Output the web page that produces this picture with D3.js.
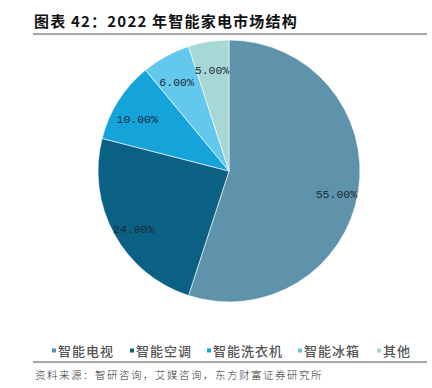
<!DOCTYPE html>
<html>
<head>
<meta charset="utf-8">
<script src="https://cdn.jsdelivr.net/npm/d3@7"></script>
<style>
  body { margin: 0; background: #fff; }
  svg { display: block; }
</style>
</head>
<body>
<script>
// chart data
var categories = ["智能电视", "智能空调", "智能洗衣机", "智能冰箱", "其他"];
var shares = [55, 24, 10, 6, 5];
var colors = ["#5f93ab", "#0b6183", "#14a4da", "#62c8ee", "#a6d9d6"];

var width = 432, height = 388,
    cx = 229, cy = 171, radius = 131;

var svg = d3.select("body").append("svg")
    .attr("width", width)
    .attr("height", height);

// title + rule
svg.append("text")
    .attr("x", 34)
    .attr("y", 27)
    .style("font-family", "'Noto Sans CJK SC', sans-serif")
    .style("font-weight", "bold")
    .style("font-size", "15px")
    .style("letter-spacing", "1.2px")
    .attr("fill", "#111")
    .text("图表 42：2022 年智能家电市场结构");

svg.append("line")
    .attr("x1", 33).attr("x2", 427)
    .attr("y1", 34).attr("y2", 34)
    .attr("stroke", "#888")
    .attr("stroke-width", 1.5);

// pie
var pie = d3.pie().sort(null).value(function(d){ return d; });
var arc = d3.arc().innerRadius(0).outerRadius(radius);
var labelArc = d3.arc().innerRadius(radius * 0.83).outerRadius(radius * 0.83);

var g = svg.append("g")
    .attr("transform", "translate(" + cx + "," + cy + ")");

var slices = g.selectAll(".slice")
    .data(pie(shares))
    .enter()
    .append("g")
    .attr("class", "slice");

slices.append("path")
    .attr("d", arc)
    .attr("fill", function(d, i){ return colors[i]; })
    .attr("stroke", "#fff")
    .attr("stroke-width", 0.6);

slices.append("text")
    .attr("transform", function(d){
        var c = labelArc.centroid(d);
        return "translate(" + c[0] + "," + (c[1] + 6) + ")";
    })
    .attr("text-anchor", "middle")
    .attr("dy", "0.35em")
    .style("font-family", "'Liberation Mono', monospace")
    .style("font-size", "11.5px")
    .attr("fill", "#1a2a36")
    .text(function(d){ return d.value.toFixed(2) + "%"; });

// legend
var legendPos = [52, 130, 207, 298, 377];

var legend = svg.selectAll(".legend")
    .data(categories)
    .enter()
    .append("g")
    .attr("class", "legend")
    .attr("transform", function(d, i){
        return "translate(" + legendPos[i] + ",351)";
    });

legend.append("rect")
    .attr("x", 0).attr("y", -2.5)
    .attr("width", 4).attr("height", 4)
    .attr("fill", function(d, i){ return colors[i]; });

legend.append("text")
    .attr("x", 6)
    .attr("dy", "0.35em")
    .style("font-family", "'Noto Sans CJK SC', sans-serif")
    .style("font-size", "13px")
    .style("font-weight", "500")
    .style("letter-spacing", "1px")
    .attr("fill", "#555")
    .text(function(d){ return d; });

// bottom rule + source
svg.append("line")
    .attr("x1", 33).attr("x2", 427)
    .attr("y1", 362).attr("y2", 362)
    .attr("stroke", "#888")
    .attr("stroke-width", 1.5);

svg.append("text")
    .attr("x", 35)
    .attr("y", 379)
    .style("font-family", "'Noto Sans CJK SC', sans-serif")
    .style("font-size", "10.5px")
    .style("font-weight", "300")
    .style("letter-spacing", "1.5px")
    .attr("fill", "#333")
    .text("资料来源：智研咨询，艾媒咨询，东方财富证券研究所");
</script>
</body>
</html>
